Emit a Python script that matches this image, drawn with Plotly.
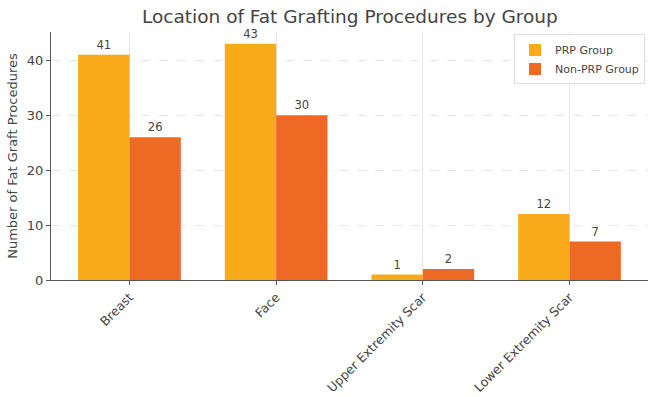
import plotly.graph_objects as go

categories = ["Breast", "Face", "Upper Extremity Scar", "Lower Extremity Scar"]
prp_values = [41, 43, 1, 12]
non_prp_values = [26, 30, 2, 7]
series_names = ["PRP Group", "Non-PRP Group"]
y_ticks = [0, 10, 20, 30, 40]

PRP_COLOR = "#F9AA1A"
NON_COLOR = "#EE6A24"
TEXT_COLOR = "#444444"
FONT = "DejaVu Sans"

fig = go.Figure()
fig.add_trace(go.Bar(
    x=categories, y=prp_values, name=series_names[0],
    marker=dict(color=PRP_COLOR, line=dict(width=0)),
    text=[str(v) for v in prp_values], textposition="outside",
    textfont=dict(family=FONT, size=11.5, color=TEXT_COLOR), cliponaxis=False,
))
fig.add_trace(go.Bar(
    x=categories, y=non_prp_values, name=series_names[1],
    marker=dict(color=NON_COLOR, line=dict(width=0)),
    text=[str(v) for v in non_prp_values], textposition="outside",
    textfont=dict(family=FONT, size=11.5, color=TEXT_COLOR), cliponaxis=False,
))

fig.update_layout(
    width=648, height=397,
    margin=dict(l=51, r=0, t=32, b=117),
    paper_bgcolor="white", plot_bgcolor="white",
    barmode="group", bargap=0.3, bargroupgap=0,
    font=dict(family=FONT, color=TEXT_COLOR),
    title=dict(text="Location of Fat Grafting Procedures by Group",
               x=0.54, xanchor="center", y=0.958, yanchor="middle",
               font=dict(family=FONT, size=18.5, color=TEXT_COLOR)),
    legend=dict(x=0.995, y=0.99, xanchor="right", yanchor="top",
                bgcolor="rgba(255,255,255,0.9)", bordercolor="#dddddd", borderwidth=1,
                font=dict(family=FONT, size=11, color=TEXT_COLOR),
                itemwidth=30, tracegroupgap=0),
    showlegend=True,
)
fig.update_xaxes(
    type="category", range=[-0.535, 3.535], automargin=False,
    tickangle=-45, tickfont=dict(family=FONT, size=12.5, color=TEXT_COLOR),
    showgrid=True, gridcolor="#e6e6e6", gridwidth=1,
    showline=True, linecolor="#555555", linewidth=1.2,
    ticks="outside", ticklen=4, tickcolor="#555555",
)
fig.update_yaxes(
    range=[0, 45.15], tickvals=y_ticks, automargin=False,
    tickfont=dict(family=FONT, size=13, color=TEXT_COLOR),
    title=dict(text="Number of Fat Graft Procedures",
               font=dict(family=FONT, size=13, color=TEXT_COLOR), standoff=6),
    showgrid=True, gridcolor="#e6e6e6", gridwidth=1, griddash="dash",
    showline=True, linecolor="#555555", linewidth=1.2,
    ticks="outside", ticklen=4, tickcolor="#555555",
    zeroline=False,
)

fig.write_html("out.html")
